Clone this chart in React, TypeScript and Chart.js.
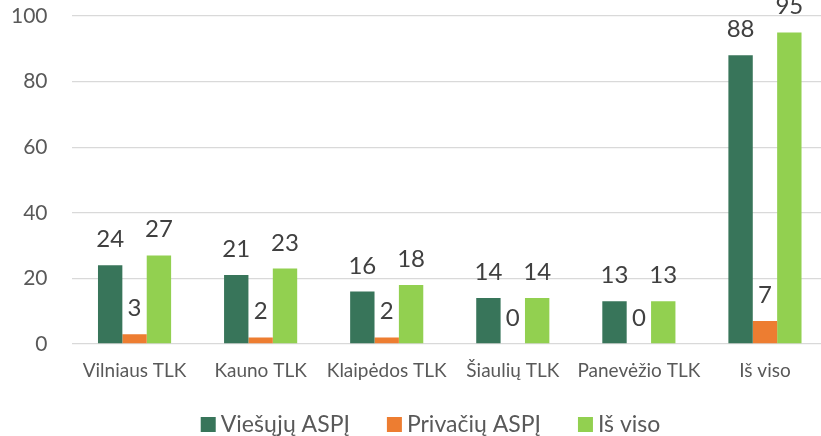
import React, { useEffect, useRef } from "react";
import { Chart, registerables } from "chart.js";

Chart.register(...registerables);

const categories = ["Vilniaus TLK", "Kauno TLK", "Klaipėdos TLK", "Šiaulių TLK", "Panevėžio TLK", "Iš viso"];
const publicValues = [24, 21, 16, 14, 13, 88];
const privateValues = [3, 2, 2, 0, 0, 7];
const totalValues = [27, 23, 18, 14, 13, 95];
const seriesNames = ["Viešųjų ASPĮ", "Privačių ASPĮ", "Iš viso"];
const seriesColors = ["#38755A", "#ED7D31", "#92D050"];
const yMin = 0;
const yMax = 100;
const yStep = 20;

const FONT = "Lato, 'Open Sans', sans-serif";

const valueLabels = {
  id: "valueLabels",
  afterDatasetsDraw(chart: any) {
    const ctx = chart.ctx;
    ctx.save();
    ctx.font = `24px ${FONT}`;
    ctx.fillStyle = "#404040";
    ctx.textAlign = "center";
    ctx.textBaseline = "alphabetic";
    chart.data.datasets.forEach((ds: any, i: number) => {
      const meta = chart.getDatasetMeta(i);
      meta.data.forEach((el: any, j: number) => {
        ctx.fillText(String(ds.data[j]), el.x, el.y - 18);
      });
    });
    ctx.restore();
  },
};

const bottomLegend = {
  id: "bottomLegend",
  afterDraw(chart: any) {
    const ctx = chart.ctx;
    ctx.save();
    ctx.font = `23px ${FONT}`;
    ctx.textBaseline = "alphabetic";
    ctx.textAlign = "left";
    const box = 15;
    const boxGap = 5;
    const itemGap = 37;
    const items = chart.data.datasets.map((ds: any) => ({
      text: ds.label,
      color: ds.backgroundColor,
      w: ctx.measureText(ds.label).width,
    }));
    const total = items.reduce((s: number, it: any) => s + box + boxGap + it.w, 0) + itemGap * (items.length - 1);
    let x = 430.5 - total / 2;
    const baseline = 432;
    items.forEach((it: any) => {
      ctx.fillStyle = it.color;
      ctx.fillRect(x, baseline - 15, box, box);
      ctx.fillStyle = "#595959";
      ctx.fillText(it.text, x + box + boxGap, baseline);
      x += box + boxGap + it.w + itemGap;
    });
    ctx.restore();
  },
};

export default function App() {
  const ref = useRef<HTMLCanvasElement | null>(null);

  useEffect(() => {
    if (!ref.current) return;
    const chart = new Chart(ref.current, {
      type: "bar",
      data: {
        labels: categories,
        datasets: [
          { label: seriesNames[0], data: publicValues, backgroundColor: seriesColors[0] },
          { label: seriesNames[1], data: privateValues, backgroundColor: seriesColors[1] },
          { label: seriesNames[2], data: totalValues, backgroundColor: seriesColors[2] },
        ],
      },
      options: {
        responsive: false,
        animation: false,
        layout: { padding: { top: 16, right: 0, left: 0, bottom: 50 } },
        datasets: { bar: { categoryPercentage: 0.58, barPercentage: 1 } },
        plugins: {
          legend: { display: false },
          tooltip: { enabled: false },
        },
        scales: {
          x: {
            grid: { display: false, drawTicks: false },
            border: { display: false },
            ticks: {
              color: "#595959",
              font: { family: FONT, size: 19 },
              padding: 15,
              maxRotation: 0,
              minRotation: 0,
              autoSkip: false,
            },
            afterFit(scale: any) {
              scale.height = 42;
              scale.paddingLeft = 0;
              scale.paddingRight = 0;
            },
          },
          y: {
            min: yMin,
            max: yMax,
            ticks: { stepSize: yStep, color: "#595959", font: { family: FONT, size: 21 }, padding: 24 },
            grid: { color: "#D9D9D9", lineWidth: 1.3, drawTicks: false },
            border: { display: false },
            afterFit(scale: any) {
              scale.width = 71.5;
              scale.paddingTop = 0;
              scale.paddingBottom = 0;
            },
          },
        },
      },
      plugins: [valueLabels, bottomLegend],
    });
    return () => chart.destroy();
  }, []);

  return (
    <div style={{ position: "fixed", left: 0, top: 0, width: 821, height: 436, overflow: "hidden", background: "#fff" }}>
      <canvas ref={ref} width={828} height={436} />
    </div>
  );
}
